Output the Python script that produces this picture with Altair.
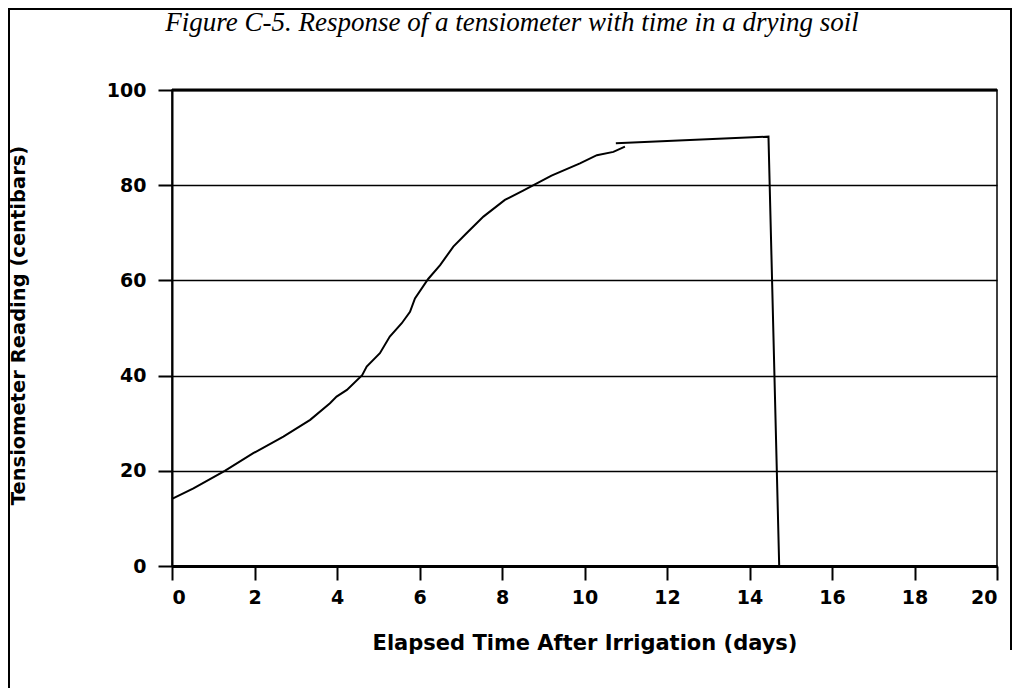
import altair as alt
import pandas as pd

# ---- data ----
seg1_days = [0.0, 0.52, 1.28, 1.97, 2.70, 3.35, 3.83, 3.99, 4.24, 4.61, 4.72, 5.04,
             5.28, 5.57, 5.77, 5.89, 6.21, 6.50, 6.82, 7.14, 7.55, 8.07, 8.5, 9.2,
             9.89, 10.3, 10.7, 10.98]
seg1_cb = [14.1, 16.3, 20.0, 23.7, 27.2, 30.7, 34.2, 35.6, 37.0, 40.1, 41.9, 44.7,
           48.2, 51.0, 53.4, 56.2, 60.3, 63.2, 67.1, 69.9, 73.4, 76.9, 78.8, 82.0,
           84.6, 86.3, 87.0, 88.1]
seg2_days = [10.76, 14.46, 14.72]
seg2_cb = [88.8, 90.2, 0.0]

x_ticks = [0, 2, 4, 6, 8, 10, 12, 14, 16, 18, 20]
y_ticks = [0, 20, 40, 60, 80, 100]

title_text = "Figure C-5. Response of a tensiometer with time in a drying soil"
x_title = "Elapsed Time After Irrigation (days)"
y_title = "Tensiometer Reading (centibars)"

rows = []
for i, (d, c) in enumerate(zip(seg1_days, seg1_cb)):
    rows.append({"day": d, "cb": c, "seg": "a", "i": i})
for i, (d, c) in enumerate(zip(seg2_days, seg2_cb)):
    rows.append({"day": d, "cb": c, "seg": "b", "i": i})
df = pd.DataFrame(rows)

W, H = 825, 476
PAD = {"left": 164, "top": 82, "right": 15, "bottom": 122}
SANS = "DejaVu Sans"

line = alt.Chart(df).mark_line(color="black", strokeWidth=2).encode(
    x=alt.X("day:Q", scale=alt.Scale(domain=[0, 20], nice=False),
            axis=alt.Axis(values=x_ticks, title=x_title, grid=False,
                          domainWidth=3, labelPadding=8,
                          titleFontSize=21,
                          titleX=W / 2, titleY=83, titleBaseline="alphabetic",
                          titleAlign="center")),
    y=alt.Y("cb:Q", scale=alt.Scale(domain=[0, 100], nice=False),
            axis=alt.Axis(values=y_ticks, title=y_title, grid=True,
                          gridColor="black", gridWidth=1.5, gridOpacity=1,
                          domainWidth=2, labelPadding=12,
                          titleFontSize=19.5,
                          titleX=-148, titleY=H / 2 - 3, titleAngle=270,
                          titleBaseline="alphabetic", titleAlign="center")),
    detail="seg:N",
    order="i:Q",
)

one = pd.DataFrame({"k": [0]})
top_rule = alt.Chart(one).mark_rule(color="black", strokeWidth=3).encode(
    x=alt.value(0), x2=alt.value(W), y=alt.value(0))

left_border = alt.Chart(one).mark_rule(color="black", strokeWidth=2).encode(
    x=alt.value(-163), y=alt.value(-82), y2=alt.value(H + PAD["bottom"]))
top_border = alt.Chart(one).mark_rule(color="black", strokeWidth=2).encode(
    x=alt.value(-164), x2=alt.value(W + PAD["right"]), y=alt.value(-81))
right_border = alt.Chart(one).mark_rule(color="black", strokeWidth=2).encode(
    x=alt.value(W + 14), y=alt.value(-82), y2=alt.value(560))

title = alt.Chart(pd.DataFrame({"t": [title_text]})).mark_text(
    font="Liberation Serif", fontStyle="italic", fontSize=27,
    align="center", baseline="alphabetic", color="black",
).encode(x=alt.value(340), y=alt.value(-59), text="t:N")

chart = alt.layer(line, top_rule, left_border, top_border, right_border, title).properties(
    width=W, height=H, padding=PAD, autosize="none",
).configure_view(
    stroke="black", strokeWidth=1.5,
).configure_axis(
    domainColor="black", tickColor="black", tickWidth=2, tickSize=14,
    labelFont=SANS, labelFontWeight="bold", labelFontSize=19,
    labelColor="black",
    titleFont=SANS, titleFontWeight="bold",
    titleColor="black",
)

chart.save("out.html", embed_options={"renderer": "svg", "actions": False})
